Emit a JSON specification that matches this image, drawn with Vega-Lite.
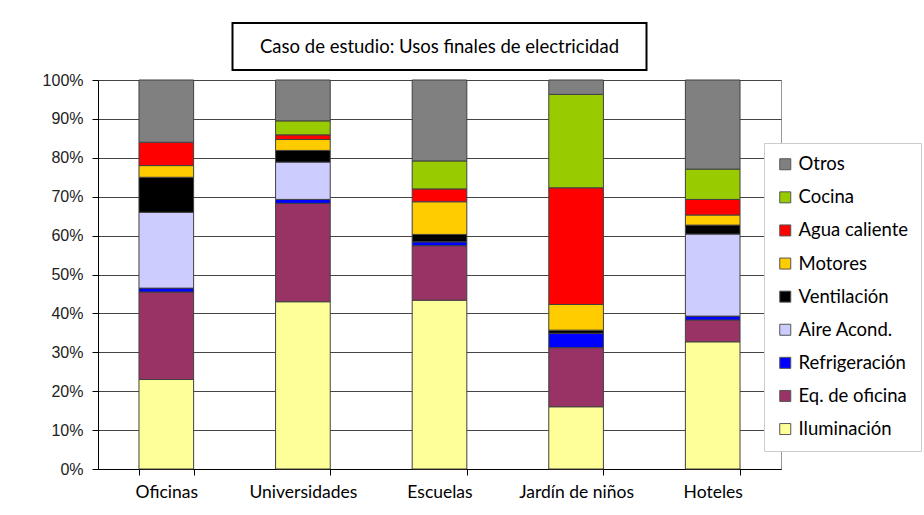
{
  "$schema": "https://vega.github.io/schema/vega-lite/v6.json",
  "background": "white",
  "padding": {"left": 41, "top": 22, "right": 0, "bottom": 0},
  "spacing": 10,
  "bounds": "flush",
  "center": true,
  "vconcat": [
    {
      "width": 414,
      "height": 47,
      "view": {"stroke": "#000", "strokeWidth": 2, "fill": "white"},
      "data": {"values": [{"titulo": "Caso de estudio: Usos finales de electricidad"}]},
      "mark": {"type": "text", "font": "Lato", "fontSize": 18.5, "color": "#000"},
      "encoding": {"text": {"field": "titulo", "type": "nominal"}}
    },
    {
      "width": 683,
      "height": 389,
      "view": {"stroke": "#999", "strokeWidth": 1},
      "data": {
        "values": [
          {"edificio": "Oficinas", "uso": "Iluminación", "valor": 23, "orden": 1},
          {"edificio": "Oficinas", "uso": "Eq. de oficina", "valor": 22.5, "orden": 2},
          {"edificio": "Oficinas", "uso": "Refrigeración", "valor": 1, "orden": 3},
          {"edificio": "Oficinas", "uso": "Aire Acond.", "valor": 19.5, "orden": 4},
          {"edificio": "Oficinas", "uso": "Ventilación", "valor": 9, "orden": 5},
          {"edificio": "Oficinas", "uso": "Motores", "valor": 3, "orden": 6},
          {"edificio": "Oficinas", "uso": "Agua caliente", "valor": 6, "orden": 7},
          {"edificio": "Oficinas", "uso": "Otros", "valor": 16, "orden": 9},
          {"edificio": "Universidades", "uso": "Iluminación", "valor": 43, "orden": 1},
          {"edificio": "Universidades", "uso": "Eq. de oficina", "valor": 25.3, "orden": 2},
          {"edificio": "Universidades", "uso": "Refrigeración", "valor": 1, "orden": 3},
          {"edificio": "Universidades", "uso": "Aire Acond.", "valor": 9.6, "orden": 4},
          {"edificio": "Universidades", "uso": "Ventilación", "valor": 3, "orden": 5},
          {"edificio": "Universidades", "uso": "Motores", "valor": 2.8, "orden": 6},
          {"edificio": "Universidades", "uso": "Agua caliente", "valor": 1.2, "orden": 7},
          {"edificio": "Universidades", "uso": "Cocina", "valor": 3.6, "orden": 8},
          {"edificio": "Universidades", "uso": "Otros", "valor": 10.5, "orden": 9},
          {"edificio": "Escuelas", "uso": "Iluminación", "valor": 43.4, "orden": 1},
          {"edificio": "Escuelas", "uso": "Eq. de oficina", "valor": 14, "orden": 2},
          {"edificio": "Escuelas", "uso": "Refrigeración", "valor": 1, "orden": 3},
          {"edificio": "Escuelas", "uso": "Ventilación", "valor": 1.9, "orden": 5},
          {"edificio": "Escuelas", "uso": "Motores", "valor": 8.4, "orden": 6},
          {"edificio": "Escuelas", "uso": "Agua caliente", "valor": 3.3, "orden": 7},
          {"edificio": "Escuelas", "uso": "Cocina", "valor": 7.2, "orden": 8},
          {"edificio": "Escuelas", "uso": "Otros", "valor": 20.8, "orden": 9},
          {"edificio": "Jardín de niños", "uso": "Iluminación", "valor": 16, "orden": 1},
          {"edificio": "Jardín de niños", "uso": "Eq. de oficina", "valor": 15.2, "orden": 2},
          {"edificio": "Jardín de niños", "uso": "Refrigeración", "valor": 3.7, "orden": 3},
          {"edificio": "Jardín de niños", "uso": "Ventilación", "valor": 0.8, "orden": 5},
          {"edificio": "Jardín de niños", "uso": "Motores", "valor": 6.6, "orden": 6},
          {"edificio": "Jardín de niños", "uso": "Agua caliente", "valor": 30, "orden": 7},
          {"edificio": "Jardín de niños", "uso": "Cocina", "valor": 24, "orden": 8},
          {"edificio": "Jardín de niños", "uso": "Otros", "valor": 3.7, "orden": 9},
          {"edificio": "Hoteles", "uso": "Iluminación", "valor": 32.7, "orden": 1},
          {"edificio": "Hoteles", "uso": "Eq. de oficina", "valor": 5.6, "orden": 2},
          {"edificio": "Hoteles", "uso": "Refrigeración", "valor": 1, "orden": 3},
          {"edificio": "Hoteles", "uso": "Aire Acond.", "valor": 21.1, "orden": 4},
          {"edificio": "Hoteles", "uso": "Ventilación", "valor": 2.3, "orden": 5},
          {"edificio": "Hoteles", "uso": "Motores", "valor": 2.6, "orden": 6},
          {"edificio": "Hoteles", "uso": "Agua caliente", "valor": 4, "orden": 7},
          {"edificio": "Hoteles", "uso": "Cocina", "valor": 7.8, "orden": 8},
          {"edificio": "Hoteles", "uso": "Otros", "valor": 22.9, "orden": 9}
        ]
      },
      "mark": {"type": "bar", "stroke": "#404040", "strokeWidth": 1},
      "encoding": {
        "x": {
          "field": "edificio",
          "type": "nominal",
          "sort": ["Oficinas", "Universidades", "Escuelas", "Jardín de niños", "Hoteles"],
          "scale": {"paddingInner": 0.6, "paddingOuter": 0.3},
          "axis": {
            "title": null,
            "labelAngle": 0,
            "tickBand": "extent",
            "tickSize": 6,
            "labelPadding": 8,
            "labelFont": "Lato",
            "labelFontSize": 17.5,
            "labelColor": "#000",
            "domainColor": "#000",
            "tickColor": "#000",
            "grid": false
          }
        },
        "y": {
          "field": "valor",
          "type": "quantitative",
          "stack": "normalize",
          "scale": {"domain": [0, 1]},
          "axis": {
            "title": null,
            "values": [0, 0.1, 0.2, 0.3, 0.4, 0.5, 0.6, 0.7, 0.8, 0.9, 1],
            "format": ".0%",
            "labelFont": "Liberation Sans",
            "labelFontSize": 16,
            "labelColor": "#222",
            "tickSize": 6,
            "labelPadding": 9,
            "gridColor": "#444",
            "gridWidth": 1,
            "domainColor": "#000",
            "tickColor": "#000"
          }
        },
        "color": {
          "field": "uso",
          "type": "nominal",
          "scale": {
            "domain": ["Otros", "Cocina", "Agua caliente", "Motores", "Ventilación", "Aire Acond.", "Refrigeración", "Eq. de oficina", "Iluminación"],
            "range": ["#808080", "#99CC00", "#FF0000", "#FFCC00", "#000000", "#CCCCFF", "#0000FF", "#993366", "#FFFF99"]
          },
          "legend": {
            "orient": "none",
            "legendX": 666,
            "legendY": 120,
            "title": null,
            "symbolType": "square",
            "symbolSize": 121,
            "symbolStrokeColor": "#555",
            "symbolStrokeWidth": 1,
            "labelFont": "Lato",
            "labelFontSize": 18.5,
            "labelColor": "#000",
            "rowPadding": 14.1,
            "padding": 12,
            "strokeColor": "#ccc",
            "fillColor": "#fff",
            "labelOffset": 4
          }
        },
        "order": {"field": "orden", "type": "quantitative"}
      }
    }
  ]
}
